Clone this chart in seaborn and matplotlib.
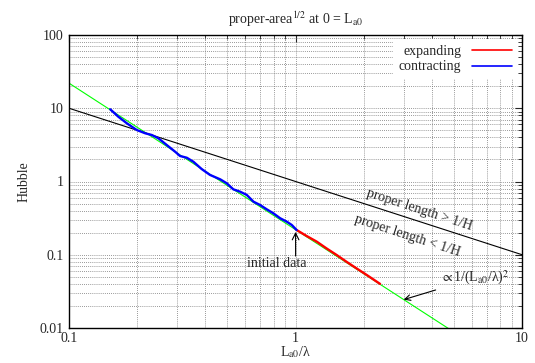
import numpy as np
import pandas as pd
import seaborn as sns
import matplotlib.pyplot as plt
from matplotlib.ticker import LogLocator, FixedFormatter, FixedLocator, NullFormatter

sns.set_theme(style="white")
plt.rcParams['font.family'] = ['Liberation Serif', 'DejaVu Serif']
plt.rcParams['mathtext.fontset'] = 'stix'

# contracting branch
contract_x = [0.152, 0.165, 0.180, 0.199, 0.217, 0.232, 0.248, 0.270, 0.294, 0.309,
              0.331, 0.354, 0.385, 0.419, 0.465, 0.497, 0.531, 0.569, 0.609, 0.652,
              0.697, 0.746, 0.798, 0.855, 0.914, 0.962, 1.01]
contract_y = [9.68, 7.67, 6.23, 5.05, 4.55, 4.31, 3.89, 3.15, 2.55, 2.23,
              2.11, 1.86, 1.48, 1.23, 1.07, 0.945, 0.782, 0.726, 0.655, 0.530,
              0.478, 0.417, 0.368, 0.315, 0.283, 0.255, 0.218]

# expanding branch
expand_x = [1.01, 1.12, 1.24, 1.37, 1.52, 1.68, 1.86, 2.06, 2.36]
expand_y = [0.218, 0.180, 0.151, 0.122, 0.099, 0.080, 0.065, 0.053, 0.040]

# reference lines
horizon_x = [0.1, 10]
horizon_y = [10, 0.1]
power_x = [0.1, 10]
power_y = [22, 0.0022]

df = pd.concat([
    pd.DataFrame({'x': expand_x, 'y': expand_y, 'branch': 'expanding'}),
    pd.DataFrame({'x': contract_x, 'y': contract_y, 'branch': 'contracting'}),
])

fig, ax = plt.subplots(figsize=(5.35, 3.63), dpi=100)
fig.subplots_adjust(left=0.129, right=0.976, bottom=0.0964, top=0.9036)

sns.lineplot(x=power_x, y=power_y, color='#00ff00', lw=0.8, ax=ax)
sns.lineplot(x=horizon_x, y=horizon_y, color='black', lw=0.8, ax=ax)
sns.lineplot(data=df, x='x', y='y', hue='branch', sort=False, estimator=None,
             palette={'expanding': '#ff0000', 'contracting': '#0000ff'}, lw=1.7, ax=ax)

ax.set_xscale('log')
ax.set_yscale('log')
ax.set_xlim(0.1, 10)
ax.set_ylim(0.01, 100)

x_ticks = [0.1, 1, 10]
x_labels = ['0.1', '1', '10']
y_ticks = [0.01, 0.1, 1, 10, 100]
y_labels = ['0.01', '0.1', '1', '10', '100']
ax.xaxis.set_major_locator(FixedLocator(x_ticks))
ax.xaxis.set_major_formatter(FixedFormatter(x_labels))
ax.yaxis.set_major_locator(FixedLocator(y_ticks))
ax.yaxis.set_major_formatter(FixedFormatter(y_labels))
ax.xaxis.set_minor_locator(LogLocator(base=10, subs=np.arange(2, 10)))
ax.yaxis.set_minor_locator(LogLocator(base=10, subs=np.arange(2, 10)))
ax.xaxis.set_minor_formatter(NullFormatter())
ax.yaxis.set_minor_formatter(NullFormatter())

ax.tick_params(which='both', direction='in', top=True, right=True, labelsize=10)
ax.tick_params(axis='x', pad=3)
ax.tick_params(axis='y', pad=4)
ax.tick_params(which='major', length=5, width=0.8)
ax.tick_params(which='minor', length=3, width=0.6)
ax.grid(True, which='both', color='#777777', linestyle=(0, (1, 1.5)), lw=0.6)
for s in ax.spines.values():
    s.set_color('black')
    s.set_linewidth(1.0)

ax.set_title(r'proper-area$^{1/2}$ at 0 = L$_{\rm a0}$', fontsize=10, pad=8)
ax.set_xlabel(r'L$_{\rm a0}$/λ', fontsize=10, labelpad=-1)
ax.set_ylabel('Hubble', fontsize=10, labelpad=6)

ax.text(3.51, 0.408, 'proper length > 1/H', rotation=-18, rotation_mode='anchor',
        ha='center', va='center', fontsize=10)
ax.text(3.10, 0.180, 'proper length < 1/H', rotation=-18, rotation_mode='anchor',
        ha='center', va='center', fontsize=10)
ax.annotate(r'$\propto$1/(L$_{\rm a0}$/λ)$^2$', xy=(3.0, 0.0244), xytext=(4.35, 0.048),
            ha='left', va='center', fontsize=10,
            arrowprops=dict(arrowstyle='->', color='black', lw=0.8, shrinkA=1, shrinkB=0))
ax.annotate('', xy=(1.0, 0.205), xytext=(1.0, 0.096),
            arrowprops=dict(arrowstyle='->', color='black', lw=0.8, shrinkA=0, shrinkB=0))
ax.text(0.828, 0.0748, 'initial data', ha='center', va='center', fontsize=10)

leg = ax.legend(loc='upper right', markerfirst=False, frameon=True, fontsize=10,
                handlelength=2.9, borderaxespad=0.3, labelspacing=0.2)
leg.get_frame().set_edgecolor('none')
leg.get_frame().set_facecolor('white')
leg.get_frame().set_alpha(1)
leg.get_frame().set_boxstyle('square', pad=0)
for line in leg.get_lines():
    line.set_linewidth(1.2)

fig.savefig('out.png', dpi=100)
